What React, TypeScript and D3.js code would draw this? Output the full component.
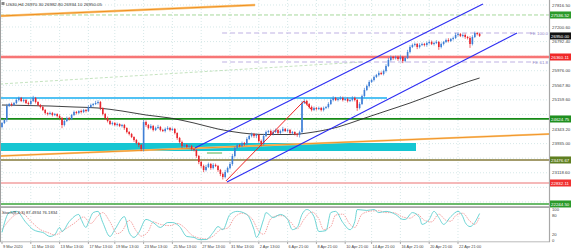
import React from "react";
import * as d3 from "d3";

// ---------- data ----------
const symbolText = "US30,H4";
const headerValues = ["26970.30", "26982.80", "26934.10", "26950.05"];
const stochText = "Stoch(8,3,3) 87.4934 76.1834";

const firstOpen = 24400;
const closes = [
  24512, 24596, 24988, 25044, 25016, 25072, 25156, 25212, 25128, 25156, 25072, 25044, 25128, 25212, 25100, 25016, 24960, 24876, 24792, 24764,
  24792, 24736, 24764, 24708, 24652, 24456, 24568, 24652, 24624, 24736, 24820, 24792, 24848, 24820, 24876, 24848, 24960, 25016, 25044, 25072,
  25100, 24932, 24764, 24652, 24568, 24484, 24512, 24456, 24484, 24428, 24456, 24372, 24260, 24204, 24120, 24036, 23952, 23896, 23784, 24540,
  24456, 24372, 24428, 24316, 24372, 24400, 24316, 24288, 24344, 24372, 24316, 24344, 24232, 24092, 23980, 23868, 23896, 23840, 23868, 23784,
  23756, 23588, 23420, 23308, 23196, 23280, 23364, 23252, 23336, 23308, 23196, 23084, 23000, 23140, 23252, 23364, 23588, 23812, 23896, 23868,
  23952, 23924, 24064, 24148, 24204, 24148, 24176, 24008, 23924, 24148, 24260, 24288, 24204, 24260, 24316, 24232, 24288, 24344, 24288, 24316,
  24232, 24260, 24204, 24176, 24260, 25072, 25128, 25044, 24960, 24876, 24932, 24904, 24932, 24876, 24932, 24960, 25044, 25156, 25212, 25156,
  25184, 25212, 25156, 25184, 25128, 25156, 25212, 25156, 24932, 25044, 25268, 25436, 25548, 25660, 25716, 25800, 25856, 25912, 25884, 25968,
  26108, 26276, 26360, 26332, 26360, 26304, 26360, 26248, 26332, 26500, 26640, 26696, 26724, 26640, 26696, 26724, 26696, 26752, 26780, 26724,
  26752, 26780, 26640, 26724, 26780, 26836, 26808, 26864, 26892, 26976, 27004, 26948, 26976, 26920, 26892, 26724, 26920, 27032, 27004, 26950,
];
const wickHi = [
  30, 40, 60, 30, 40, 30, 50, 40, 30, 40, 30, 40, 50, 60, 30, 20, 30, 40, 30, 20,
  40, 30, 30, 20, 40, 30, 50, 40, 30, 30, 40, 30, 20, 40, 30, 30, 50, 40, 30, 60,
  50, 30, 20, 30, 40, 30, 40, 30, 40, 20, 30, 30, 20, 30, 30, 20, 30, 30, 30, 60,
  40, 30, 50, 30, 40, 60, 30, 30, 40, 50, 30, 40, 30, 20, 30, 40, 50, 30, 40, 30,
  30, 20, 30, 30, 40, 60, 40, 30, 50, 40, 30, 30, 40, 60, 40, 50, 60, 40, 50, 30,
  40, 30, 50, 40, 40, 30, 40, 30, 40, 60, 40, 30, 40, 50, 40, 30, 40, 60, 30, 40,
  30, 30, 20, 30, 40, 60, 50, 30, 30, 40, 40, 30, 40, 30, 40, 30, 50, 40, 50, 30,
  40, 50, 40, 30, 40, 30, 50, 40, 30, 50, 40, 60, 40, 50, 30, 40, 30, 50, 40, 40,
  50, 60, 40, 30, 40, 40, 50, 30, 40, 60, 50, 40, 40, 30, 50, 40, 30, 40, 50, 40,
  40, 50, 30, 40, 30, 40, 50, 30, 40, 60, 40, 30, 40, 40, 30, 50, 50, 40, 30, 30,
];
const wickLo = [
  40, 30, 50, 30, 40, 30, 30, 40, 30, 40, 30, 30, 40, 30, 40, 30, 40, 30, 40, 40,
  30, 40, 30, 40, 30, 90, 40, 30, 40, 30, 30, 40, 30, 40, 30, 40, 30, 30, 40, 30,
  40, 60, 40, 50, 40, 30, 40, 30, 40, 30, 40, 50, 40, 40, 30, 50, 40, 60, 60, 70,
  50, 40, 30, 40, 30, 30, 40, 30, 40, 30, 40, 30, 40, 50, 40, 60, 40, 30, 40, 50,
  40, 50, 60, 50, 60, 40, 30, 50, 40, 30, 50, 60, 70, 40, 30, 40, 50, 40, 30, 40,
  40, 50, 40, 30, 40, 50, 60, 50, 70, 40, 30, 40, 30, 40, 30, 40, 30, 40, 30, 40,
  30, 40, 40, 50, 70, 40, 30, 40, 50, 40, 30, 40, 30, 40, 40, 30, 40, 30, 40, 30,
  40, 30, 40, 30, 40, 30, 40, 40, 80, 40, 30, 40, 30, 40, 30, 40, 30, 40, 30, 40,
  40, 30, 40, 50, 40, 50, 40, 60, 40, 30, 40, 30, 40, 60, 40, 30, 40, 50, 40, 30,
  40, 30, 80, 40, 40, 30, 40, 30, 40, 30, 40, 30, 40, 50, 40, 110, 40, 30, 40, 30,
];

const maBars = [0, 10, 20, 30, 40, 50, 60, 70, 80, 90, 100, 110, 120, 130, 140, 150, 160, 170, 180, 190, 199];
const maValues = [25016, 25002, 24988, 24960, 24932, 24848, 24736, 24652, 24512, 24344, 24232, 24190, 24190, 24260, 24400, 24624, 24848, 25072, 25324, 25576, 25772];

const stochKBars = [0, 3, 6, 10, 13, 15, 17, 20, 22, 24, 25, 28, 32, 33, 35, 36, 38, 40, 42, 45, 47, 51, 53, 55, 57, 60, 63, 66, 69, 71, 74, 77, 80, 82, 85, 88, 90, 92, 95, 98, 102, 105, 106, 109, 110, 113, 116, 119, 121, 123, 125, 127, 130, 132, 135, 137, 139, 142, 145, 147, 148, 152, 155, 157, 160, 164, 167, 168, 171, 174, 175, 178, 180, 182, 184, 187, 190, 192, 193, 195, 199];
const stochKValues = [26, 90, 94, 58, 35, 29, 26, 13, 19, 42, 29, 61, 84, 68, 42, 58, 90, 94, 58, 13, 35, 77, 26, 10, 26, 68, 58, 42, 58, 58, 45, 13, 10, 3, 3, 26, 45, 35, 84, 94, 84, 35, 10, 68, 90, 74, 84, 68, 35, 42, 84, 100, 77, 29, 32, 90, 94, 58, 35, 61, 100, 97, 100, 90, 94, 84, 68, 68, 90, 74, 52, 68, 94, 74, 52, 77, 94, 77, 58, 45, 87];
const stochDBars = [0, 5, 8, 12, 16, 19, 22, 26, 30, 34, 37, 40, 42, 45, 48, 50, 53, 56, 58, 61, 63, 66, 70, 73, 76, 79, 82, 85, 88, 91, 94, 97, 100, 104, 107, 109, 112, 115, 117, 120, 123, 126, 129, 132, 134, 137, 139, 142, 145, 147, 150, 154, 157, 160, 163, 167, 170, 173, 176, 179, 182, 185, 187, 189, 192, 195, 197, 199];
const stochDValues = [35, 80, 90, 62, 35, 26, 18, 35, 55, 76, 55, 80, 90, 60, 22, 30, 65, 30, 14, 30, 60, 52, 48, 55, 42, 18, 8, 5, 14, 35, 40, 75, 88, 72, 30, 20, 70, 80, 80, 62, 38, 70, 92, 70, 35, 45, 82, 85, 52, 42, 85, 95, 96, 90, 90, 76, 72, 85, 65, 60, 85, 65, 62, 80, 88, 62, 52, 76];

const dateBars = [0, 12, 24, 36, 47, 59, 71, 83, 95, 107, 119, 131, 143, 154, 166, 178, 190];
const dateLabels = ["9 Mar 2020", "11 Mar 13:00", "13 Mar 13:00", "17 Mar 13:00", "19 Mar 13:00", "23 Mar 13:00", "25 Mar 13:00", "27 Mar 13:00", "31 Mar 13:00", "2 Apr 13:00", "6 Apr 21:00", "8 Apr 21:00", "10 Apr 21:00", "14 Apr 21:00", "16 Apr 21:00", "20 Apr 21:00", "22 Apr 21:00"];

const priceTicks = [27816.5, 27200.6, 26792.4, 26384.2, 25976.0, 25567.8, 25159.6, 24751.4, 24343.2, 23935.0, 23526.8, 23118.6, 22710.4, 22302.2];
const stochLevels = [100, 80, 20, 0];

// horizontal levels (prices)
const levelGreenDash = 27536.52;
const levelRed = 26360.11;
const levelFE100 = 27032;
const levelFE618 = 26220;
const levelFEStartBar = 91.7;
const levelCyan = 25212;
const levelCyanEndBar = 160.4;
const levelDarkGreen = 24624.75;
const levelOlive = 23476.67;
const levelPink = 22832.11;
const levelGreenLow = 22244.5;
const cyanZone = { bars: [-0.83, 172.5], prices: [23952, 23728] };

// trend lines: [bar, price]
const upperChannel = [[80.4, 23812], [200.4, 27844]];
const lowerChannel = [[93.75, 22860], [214.6, 27032]];
const zigzag = [[93.3, 22888], [125.8, 25128], [128.75, 24904]];
const orangeTop = [[-0.83, 27508], [105.4, 27816]];
const orangeLow = [[-0.83, 23588], [228.3, 24204]];
const greenDashSlope = [[-0.83, 25604], [150, 26220]];
const greenShort = [[85.4, 23672], [91.7, 23672]];

// ---------- layout ----------
const W = 571;
const H = 250;
const plotR = 549;
const mainBottom = 206;
const font = "'Liberation Sans', Arial, sans-serif";

export default function App() {
  const x = d3.scaleLinear().domain([0, closes.length - 1]).range([2, 479.6]);
  const y = d3.scaleLinear().domain([22188, 27956]).range([mainBottom, 0]);
  const ys = d3.scaleLinear().domain([0, 100]).range([240.5, 209.5]);

  const candles = closes.map((c, i) => {
    const o = i === 0 ? firstOpen : closes[i - 1];
    return { i, o, c, h: Math.max(o, c) + wickHi[i], l: Math.min(o, c) - wickLo[i] };
  });

  const seg = d3.line<number[]>().x((d) => x(d[0])).y((d) => y(d[1]));
  const maLine = d3
    .line<number>()
    .x((_, k) => x(maBars[k]))
    .y((d) => y(d))
    .curve(d3.curveMonotoneX)(maValues);
  const kLine = d3
    .line<number>()
    .x((_, k) => x(stochKBars[k]))
    .y((d) => ys(d))
    .curve(d3.curveMonotoneX)(stochKValues);
  const dLine = d3
    .line<number>()
    .x((_, k) => x(stochDBars[k]))
    .y((d) => ys(d))
    .curve(d3.curveMonotoneX)(stochDValues);

  const hLine = (p: number, stroke: string, w: number, dash?: string, x0 = 0, x1 = plotR) => (
    <line x1={x0} x2={x1} y1={y(p)} y2={y(p)} stroke={stroke} strokeWidth={w} strokeDasharray={dash} />
  );

  const boxes = [
    { p: levelGreenDash, fill: "#2a9a2a" },
    { p: levelRed, fill: "#f02828" },
    { p: levelDarkGreen, fill: "#1f8f1f" },
    { p: levelOlive, fill: "#5f7f20" },
    { p: levelPink, fill: "#f03030" },
    { p: levelGreenLow, fill: "#2a9a2a" },
    { p: closes[closes.length - 1], fill: "#111111" },
  ];
  const visibleTicks = priceTicks.filter((p) => boxes.every((b) => Math.abs(y(p) - y(b.p)) > 5.5));

  return (
    <svg
      width={W}
      height={H}
      viewBox={`0 0 ${W} ${H}`}
      style={{ position: "fixed", left: 0, top: 0, background: "#fff" }}
      fontFamily={font}
    >
      <defs>
        <clipPath id="mainClip">
          <rect x={0} y={0} width={plotR} height={mainBottom} />
        </clipPath>
        <clipPath id="stochClip">
          <rect x={0} y={208} width={plotR} height={34} />
        </clipPath>
      </defs>
      <rect x={0} y={0} width={W} height={H} fill="#fff" />

      {/* grid */}
      {dateBars.map((b, k) => (
        <line key={"vg" + k} x1={x(b)} x2={x(b)} y1={0} y2={241} stroke="#c4dede" strokeWidth={0.7} strokeDasharray="1,2" />
      ))}
      {priceTicks.map((p, k) => (
        <line key={"hg" + k} x1={0} x2={plotR} y1={y(p)} y2={y(p)} stroke="#c4dede" strokeWidth={0.7} strokeDasharray="1,2" />
      ))}

      <g clipPath="url(#mainClip)">
        {/* zones & levels */}
        <rect
          x={x(cyanZone.bars[0])}
          width={x(cyanZone.bars[1]) - x(cyanZone.bars[0])}
          y={y(cyanZone.prices[0])}
          height={y(cyanZone.prices[1]) - y(cyanZone.prices[0])}
          fill="#16c6d2"
        />
        {hLine(levelGreenDash, "#a6d89c", 1, "4,2")}
        <path d={seg(greenDashSlope) || ""} stroke="#b6dcae" strokeWidth={0.8} strokeDasharray="3,2" fill="none" />
        {hLine(levelRed, "#ffb0b0", 3)}
        {hLine(levelRed, "#f03c3c", 1.2)}
        {hLine(levelFE100, "#b8a8e0", 0.9, "5,3", x(levelFEStartBar), 533)}
        {hLine(levelFE618, "#b8a8e0", 0.9, "5,3", x(levelFEStartBar), 533)}
        {hLine(levelCyan, "#18aef0", 1.4, undefined, 0, x(levelCyanEndBar))}
        {hLine(levelDarkGreen, "#168a16", 1.8)}
        {hLine(levelOlive, "#857a3a", 1.4)}
        {hLine(levelPink, "#f2a0a0", 1.3)}
        {hLine(levelGreenLow, "#3aa53a", 1.4)}
        <path d={seg(greenShort) || ""} stroke="#3aa53a" strokeWidth={0.9} fill="none" />
        <path d={seg(orangeTop) || ""} stroke="#fbc880" strokeWidth={2.4} fill="none" />
        <path d={seg(orangeTop) || ""} stroke="#f09020" strokeWidth={1} fill="none" />
        <path d={seg(orangeLow) || ""} stroke="#fbc880" strokeWidth={2} fill="none" />
        <path d={seg(orangeLow) || ""} stroke="#f09020" strokeWidth={0.9} fill="none" />

        {/* moving average */}
        <path d={maLine || ""} stroke="#2b2b2b" strokeWidth={0.9} fill="none" />

        {/* candles */}
        {candles.map((d) => {
          const up = d.c >= d.o;
          const col = up ? "#3f7fd6" : "#e8262d";
          const top = y(Math.max(d.o, d.c));
          const bot = y(Math.min(d.o, d.c));
          return (
            <g key={d.i}>
              <line x1={x(d.i)} x2={x(d.i)} y1={y(d.h)} y2={y(d.l)} stroke={col} strokeWidth={0.7} />
              <rect x={x(d.i) - 0.8} width={1.6} y={top} height={Math.max(0.8, bot - top)} fill={col} />
            </g>
          );
        })}

        {/* channels & zigzag */}
        <path d={seg(upperChannel) || ""} stroke="#2d2df2" strokeWidth={1.1} fill="none" />
        <path d={seg(lowerChannel) || ""} stroke="#2d2df2" strokeWidth={1.1} fill="none" />
        <path d={seg(zigzag) || ""} stroke="#f02424" strokeWidth={1} fill="none" />
      </g>

      {/* FE labels */}
      <text x={548} y={y(levelFE100) + 1.6} textAnchor="end" fontSize={4.4} fill="#8f7fc8">FE 100.0</text>
      <text x={548} y={y(levelFE618) + 1.6} textAnchor="end" fontSize={4.4} fill="#8f7fc8">FE 61.8</text>

      {/* header */}
      <rect x={1.5} y={2} width={3} height={3} fill="#888" />
      <text x={6} y={5.6} fontSize={4.4} fill="#333">
        {symbolText + "  " + headerValues.join(" ")}
      </text>

      {/* separator */}
      <rect x={0} y={206.2} width={plotR} height={1.8} fill="#a8a8a8" />

      {/* stochastic */}
      <g clipPath="url(#stochClip)">
        <path d={dLine || ""} stroke="#f28c8c" strokeWidth={0.8} strokeDasharray="1.5,1" fill="none" />
        <path d={kLine || ""} stroke="#5ccfcf" strokeWidth={0.9} fill="none" />
      </g>
      <text x={2} y={214} fontSize={4.2} fill="#333">{stochText}</text>

      {/* axes */}
      <line x1={0.5} x2={0.5} y1={0} y2={242} stroke="#a0a0a0" strokeWidth={1} />
      <line x1={549.5} x2={549.5} y1={0} y2={242} stroke="#a8a8a8" strokeWidth={1.2} />
      <line x1={0} x2={550} y1={241.8} y2={241.8} stroke="#a8a8a8" strokeWidth={0.8} />
      {visibleTicks.map((p, k) => (
        <text key={"pt" + k} x={552} y={y(p) + 1.6} fontSize={4.4} fill="#444">
          {p.toFixed(2)}
        </text>
      ))}
      {stochLevels.map((v) => (
        <text key={"sl" + v} x={552} y={ys(v) + 1.6} fontSize={4.2} fill="#444">
          {v}
        </text>
      ))}
      {dateBars.map((b, k) => (
        <g key={"dl" + k}>
          <line x1={x(b)} x2={x(b)} y1={242} y2={244} stroke="#777" strokeWidth={0.6} />
          <text x={x(b) + 1} y={247.5} fontSize={3.9} fill="#444">
            {dateLabels[k]}
          </text>
        </g>
      ))}

      {/* price boxes */}
      {boxes.map((b, k) => (
        <g key={"bx" + k}>
          <rect x={550} y={y(b.p) - 3.5} width={21} height={7} fill={b.fill} />
          <text x={551} y={y(b.p) + 1.6} fontSize={4.4} fill="#fff">
            {b.p.toFixed(2)}
          </text>
        </g>
      ))}
    </svg>
  );
}
